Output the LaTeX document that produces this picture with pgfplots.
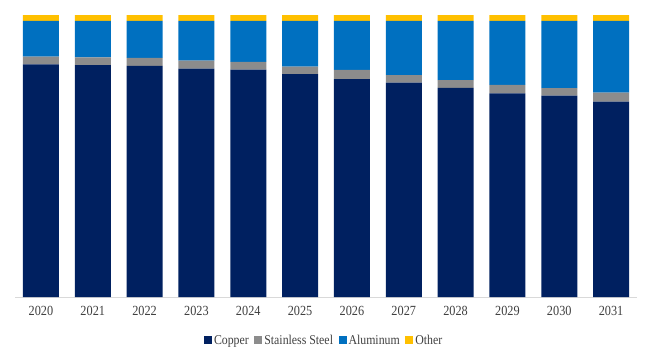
\documentclass[border=0pt]{standalone}
\usepackage{fontspec}
\setmainfont[FakeStretch=0.88]{Liberation Serif}
\usepackage{pgfplots}
\usepackage{pgfplotstable}
\pgfplotsset{compat=1.18}
\definecolor{cu}{HTML}{002060}
\definecolor{ss}{HTML}{8C8C8C}
\definecolor{al}{HTML}{0070C0}
\definecolor{ot}{HTML}{FFC000}
\definecolor{txt}{HTML}{404040}
\pgfplotstableread{
x year cu ss al ot
0 2020 82.5 2.7 12.7 2.1
1 2021 82.2 2.8 12.9 2.1
2 2022 82.0 2.8 13.1 2.1
3 2023 81.0 2.8 14.1 2.1
4 2024 80.6 2.8 14.5 2.1
5 2025 79.0 2.7 16.2 2.1
6 2026 77.3 3.2 17.4 2.1
7 2027 76.0 2.7 19.2 2.1
8 2028 74.2 2.7 21.0 2.1
9 2029 72.2 3.0 22.7 2.1
10 2030 71.4 2.7 23.8 2.1
11 2031 69.3 3.2 25.4 2.1
}\data
\begin{document}
\begin{tikzpicture}
\path[use as bounding box] (0,0) rectangle (650bp,-360bp);
\begin{axis}[
  at={(15bp,-297bp)}, anchor=south west,
  scale only axis, width=622bp, height=282bp,
  ybar stacked, bar width=36bp,
  xmin=-0.5, xmax=11.5, ymin=0, ymax=100,
  axis y line=none, axis x line*=bottom,
  x axis line style={draw=black!15, line width=0.8bp, -},
  xtick=data,
  xticklabels={2020,2021,2022,2023,2024,2025,2026,2027,2028,2029,2030,2031},
  xtick style={draw=none},
  xticklabel style={font=\fontsize{14}{14}\selectfont, text=txt, yshift=-6bp},
  legend style={at={(0.497,-0.155)}, anchor=center, draw=none, fill=none,
    legend columns=-1, font=\fontsize{13.5}{13.5}\selectfont, text=txt,
    /tikz/every even column/.append style={column sep=3.5bp}},
  legend image code/.code={\fill[#1] (0bp,-3.5bp) rectangle (8bp,4.5bp);},
]
\addplot[fill=cu, draw=none] table[x=x, y=cu] {\data};
\addplot[fill=ss, draw=none] table[x=x, y=ss] {\data};
\addplot[fill=al, draw=none] table[x=x, y=al] {\data};
\addplot[fill=ot, draw=none] table[x=x, y=ot] {\data};
\legend{Copper, Stainless Steel, Aluminum, Other}
\end{axis}
\end{tikzpicture}
\end{document}
